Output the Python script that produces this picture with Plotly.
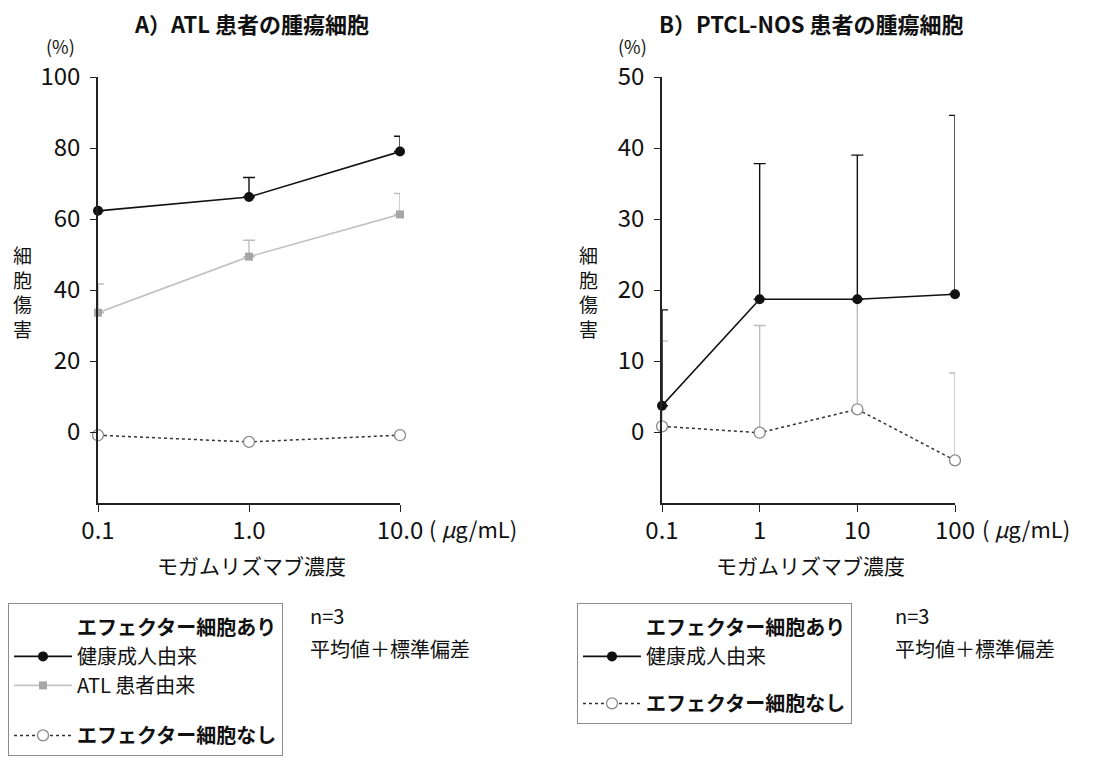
import plotly.graph_objects as go

W, H = 1102, 767
FONT = "Noto Sans CJK JP"
OFF = 8  # page body margin in the browser

# ---------------- data ----------------
conc_a = [0.1, 1.0, 10.0]
conc_a_labels = ["0.1", "1.0", "10.0"]
a_healthy = [62.3, 66.2, 79.0]
a_healthy_sd = [None, 5.5, 4.3]
a_atl = [33.6, 49.4, 61.3]
a_atl_sd = [8.1, 4.6, 5.9]
a_none = [-0.9, -2.8, -0.9]

conc_b = [0.1, 1, 10, 100]
conc_b_labels = ["0.1", "1", "10", "100"]
b_healthy = [3.7, 18.7, 18.7, 19.4]
b_healthy_sd = [13.5, 19.1, 20.3, 25.2]
b_none = [0.8, -0.1, 3.2, -4.0]
b_none_sd = [12.0, 15.1, 15.3, 12.3]

yticks_a = [0, 20, 40, 60, 80, 100]
yticks_b = [0, 10, 20, 30, 40, 50]

BLACK = "#111111"
GRAY_LINE = "#c2c2c2"
GRAY_MARK = "#a6a6a6"
GRAY_ERR = "#bdbdbd"
NONE_EDGE = "#8a8a8a"


def px_x(p):
    return (p - OFF) / W


def px_y(p):
    return 1 - (p - OFF) / H


fig = go.Figure()


def err(arr, color):
    return dict(type="data", array=arr, arrayminus=[0] * len(arr), symmetric=False,
                color=color, thickness=1.4, width=6, visible=True)


def header(legend, group, xa, ya):
    fig.add_trace(go.Scatter(x=[None], y=[None], mode="lines",
                             line=dict(color="rgba(0,0,0,0)", width=1),
                             name="<b>エフェクター細胞あり</b>", legend=legend,
                             legendgroup=group, legendrank=1, xaxis=xa, yaxis=ya,
                             hoverinfo="skip"))


# ---- panel A ----
header("legend", "a_with", "x", "y")
fig.add_trace(go.Scatter(
    x=conc_a, y=a_none, mode="lines+markers", name="<b>エフェクター細胞なし</b>",
    line=dict(color="#333333", width=1.5, dash="dot"),
    marker=dict(symbol="circle", size=11, color="white", line=dict(color=NONE_EDGE, width=1.3)),
    legend="legend", legendgroup="a_without", legendrank=4,
    cliponaxis=False, xaxis="x", yaxis="y"))
fig.add_trace(go.Scatter(
    x=conc_a, y=a_atl, mode="lines+markers", name="ATL 患者由来",
    line=dict(color=GRAY_LINE, width=1.6),
    marker=dict(symbol="square", size=8, color=GRAY_MARK),
    error_y=err(a_atl_sd, GRAY_ERR),
    legend="legend", legendgroup="a_with", legendrank=3,
    cliponaxis=False, xaxis="x", yaxis="y"))
fig.add_trace(go.Scatter(
    x=conc_a, y=a_healthy, mode="lines+markers", name="健康成人由来",
    line=dict(color=BLACK, width=1.6),
    marker=dict(symbol="circle", size=10, color=BLACK),
    error_y=err(a_healthy_sd, BLACK),
    legend="legend", legendgroup="a_with", legendrank=2,
    cliponaxis=False, xaxis="x", yaxis="y"))

# ---- panel B ----
header("legend2", "b_with", "x2", "y2")
fig.add_trace(go.Scatter(
    x=conc_b, y=b_none, mode="lines+markers", name="<b>エフェクター細胞なし</b>",
    line=dict(color="#333333", width=1.5, dash="dot"),
    marker=dict(symbol="circle", size=11, color="white", line=dict(color=NONE_EDGE, width=1.3)),
    error_y=err(b_none_sd, GRAY_ERR),
    legend="legend2", legendgroup="b_without", legendrank=4,
    cliponaxis=False, xaxis="x2", yaxis="y2"))
fig.add_trace(go.Scatter(
    x=conc_b, y=b_healthy, mode="lines+markers", name="健康成人由来",
    line=dict(color=BLACK, width=1.6),
    marker=dict(symbol="circle", size=10, color=BLACK),
    error_y=err(b_healthy_sd, BLACK),
    legend="legend2", legendgroup="b_with", legendrank=2,
    cliponaxis=False, xaxis="x2", yaxis="y2"))

axis_common = dict(showline=True, linecolor="#222222", linewidth=1.5, showgrid=False,
                   zeroline=False, ticks="outside", tickcolor="#222222", tickwidth=1.3,
                   tickfont=dict(family=FONT, size=24, color="#111111"), mirror=False,
                   automargin=False)

legend_common = dict(xanchor="left", yanchor="top",
                     bordercolor="#8c8c8c", borderwidth=1, bgcolor="white",
                     font=dict(family=FONT, size=20, color="#111111"),
                     title=dict(text="&nbsp;", font=dict(size=3)),
                     traceorder="grouped", itemwidth=58,
                     itemclick=False, itemdoubleclick=False)

fig.update_layout(
    width=W, height=H,
    margin=dict(l=0, r=0, t=0, b=0, autoexpand=False),
    paper_bgcolor="white", plot_bgcolor="white",
    font=dict(family=FONT, color="#111111"),
    xaxis=dict(axis_common, type="log", range=[-1, 1], domain=[px_x(98), px_x(400)],
               tickvals=conc_a, ticktext=conc_a_labels, ticklen=7, anchor="y",
               ticklabelstandoff=-2),
    yaxis=dict(axis_common, range=[-20, 100], domain=[px_y(503), px_y(77)],
               tickvals=yticks_a, ticklen=6, anchor="x", ticklabelstandoff=5),
    xaxis2=dict(axis_common, type="log", range=[-1, 2], domain=[px_x(662), px_x(955)],
                tickvals=conc_b, ticktext=conc_b_labels, ticklen=7, anchor="y2",
                ticklabelstandoff=-2),
    yaxis2=dict(axis_common, range=[-10, 50], domain=[px_y(503), px_y(77)],
                tickvals=yticks_b, ticklen=6, anchor="x2", ticklabelstandoff=5),
    legend=dict(legend_common, x=px_x(8), y=px_y(603), tracegroupgap=21),
    legend2=dict(legend_common, x=px_x(577), y=px_y(603), tracegroupgap=18),
    showlegend=True,
)

ann = []


def text(x, y, s, size, xanchor="center", yanchor="middle"):
    ann.append(dict(x=px_x(x), y=px_y(y), xref="paper", yref="paper", text=s,
                    showarrow=False, xanchor=xanchor, yanchor=yanchor,
                    font=dict(family=FONT, size=size, color="#111111")))


text(251, 23, "<b>A）ATL 患者の腫瘍細胞</b>", 22)
text(811, 23, "<b>B）PTCL-NOS 患者の腫瘍細胞</b>", 22)
text(60, 46, "(%)", 18)
text(632, 46, "(%)", 18)
text(22, 292, "細<br>胞<br>傷<br>害", 19)
text(588, 292, "細<br>胞<br>傷<br>害", 19)
text(251, 565, "モガムリズマブ濃度", 21)
text(810, 565, "モガムリズマブ濃度", 21)
text(427, 528, "( <i>μ</i>g/mL)", 22, xanchor="left")
text(980, 528, "( <i>μ</i>g/mL)", 22, xanchor="left")
text(308, 615, "n=3", 20, xanchor="left")
text(308, 648, "平均値＋標準偏差", 20, xanchor="left")
text(893, 615, "n=3", 20, xanchor="left")
text(893, 648, "平均値＋標準偏差", 20, xanchor="left")

fig.update_layout(annotations=ann)

fig.write_html("out.html")
